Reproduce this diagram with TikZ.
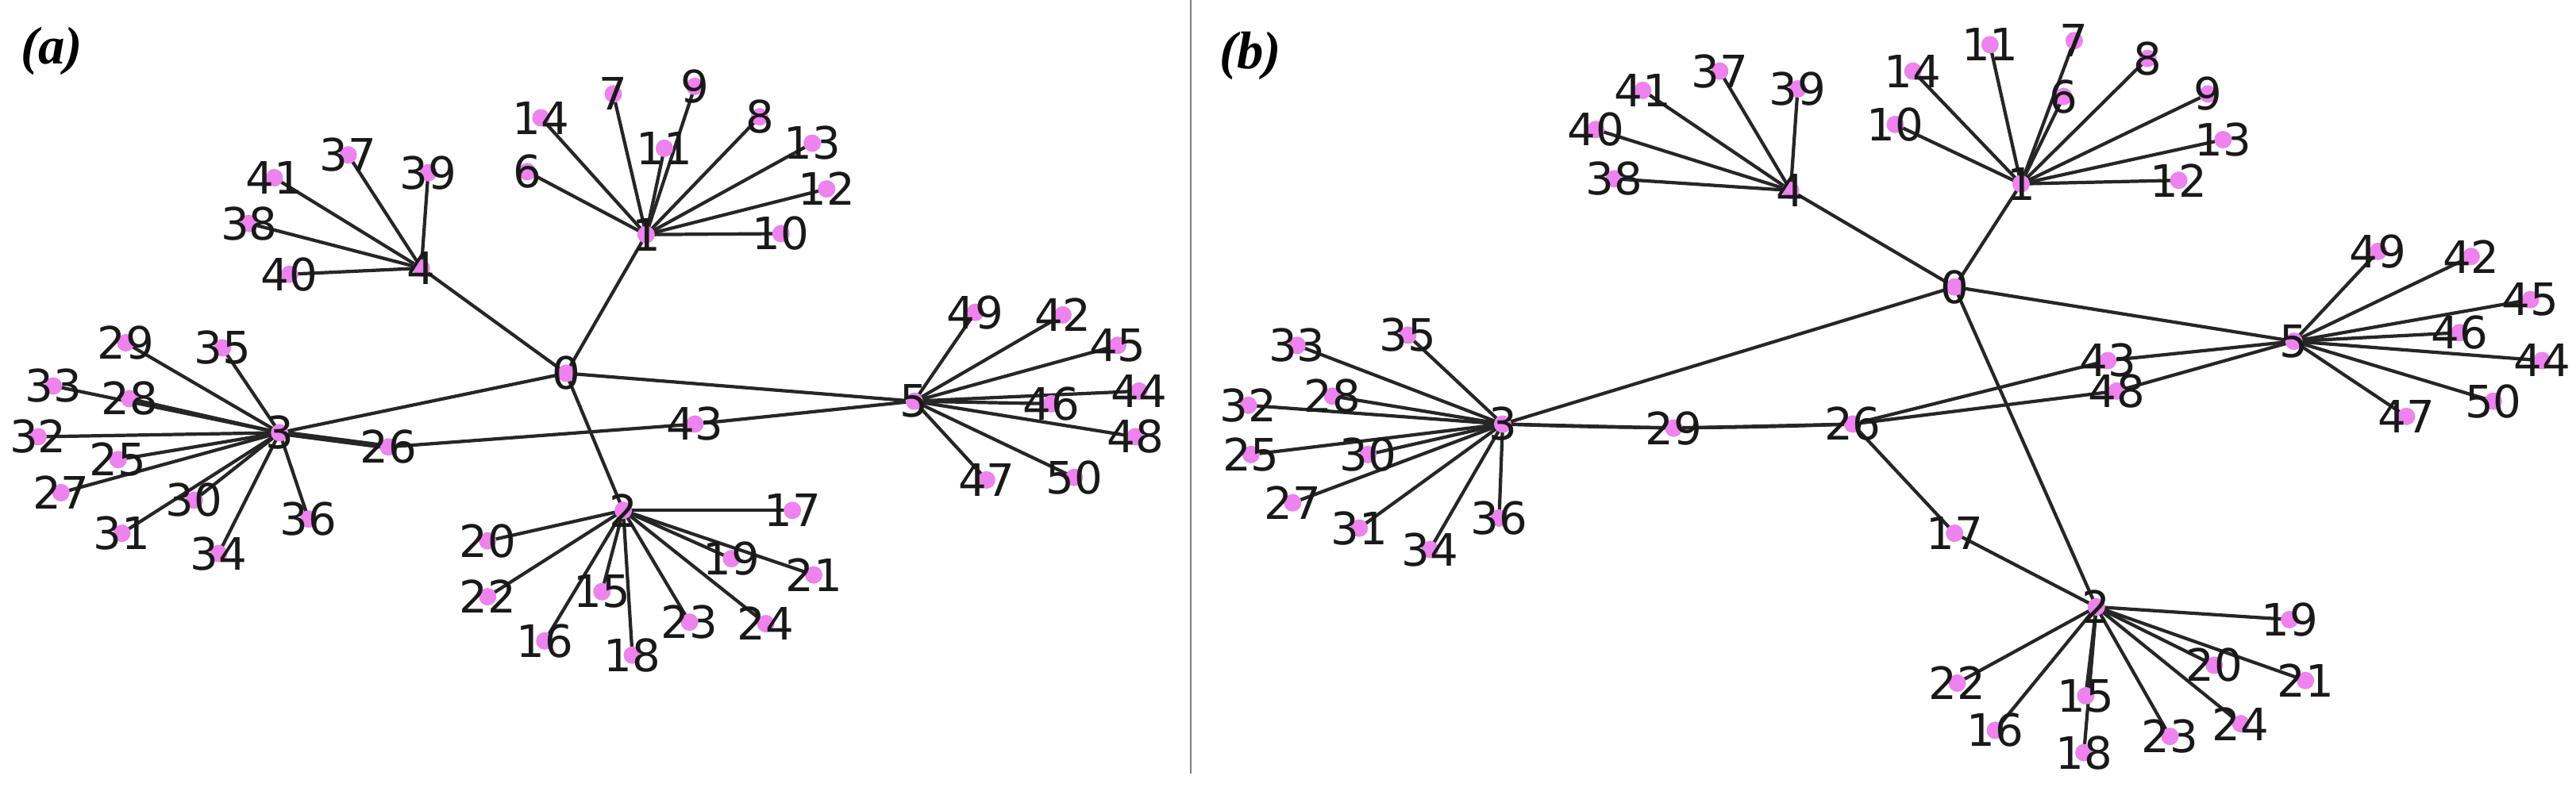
\documentclass[tikz,border=0pt]{standalone}
\usepackage{fontspec}
\setmainfont{DejaVu Sans}
\newfontfamily\serifit{Liberation Serif}
\definecolor{dotc}{HTML}{EE82EE}
\begin{document}
\begin{tikzpicture}[
  edge/.style={line width=2.4pt,black!85},
  lbl/.style={font=\fontsize{32}{36}\selectfont,inner sep=0pt,text=black!90},
  panel/.style={font=\serifit\bfseries\itshape\fontsize{38}{42}\selectfont,inner sep=0pt}]
\useasboundingbox (0,0) rectangle (64.9,-20.02);
\draw[gray,line width=1pt] (30,0) -- (30,-19.5);
\node[panel] (pa) at (1.3,-1.28) {(\textit{a})};
\node[panel] (pb) at (31.5,-1.41) {(\textit{b})};
% ---------- panel a
\begin{scope}[x=0.0192cm,y=-0.0128cm]
\foreach \n/\x/\y in {0/743/735,1/848/462,2/818/1005,3/367/852,4/553/528,5/1200/790,6/692/338,7/805/185,8/997/230,9/912/170,10/1025/460,11/872/292,12/1085/372,13/1066/282,14/710/232,15/790/1165,16/715/1262,17/1040/1005,18/830/1290,19/960/1100,20/640/1065,21/1068/1132,22/640/1175,23/905/1225,24/1005/1228,25/155/905,26/510/880,27/80/970,28/170/785,29/165/675,30/255/985,31/160/1050,32/50/860,33/70/760,34/287/1090,35/292/685,36/405/1022,37/457/305,38/327/440,39/562/340,40/380/540,41/360/350,42/1395/620,43/912/835,44/1495/770,45/1467/680,46/1380/795,47/1295/945,48/1490/860,49/1280/615,50/1410/940}
  \coordinate (a\n) at (\x,\y);
\foreach \s/\t in {0/1,0/2,0/3,0/4,0/5,26/43,43/5}
  \draw[edge] (a\s) -- (a\t);
\draw[edge,line width=4pt] (a3) -- (a26);
\foreach \t in {6,...,14} \draw[edge] (a1) -- (a\t);
\foreach \t in {15,...,24} \draw[edge] (a2) -- (a\t);
\foreach \t in {25,27,28,...,36} \draw[edge] (a3) -- (a\t);
\foreach \t in {37,...,41} \draw[edge] (a4) -- (a\t);
\foreach \t in {42,44,45,...,50} \draw[edge] (a5) -- (a\t);
\foreach \n in {0,...,50} {
  \fill[dotc] (a\n) circle (0.22cm);
  \node[lbl] (la\n) at (a\n) {\n};
}
\end{scope}
% ---------- panel b
\begin{scope}[shift={(30cm,0)},x=0.02233cm,y=-0.0128cm]
\foreach \n/\x/\y in {0/862/565,1/937/362,2/1022/1195,3/352/835,4/677/375,5/1245/672,6/985/190,7/997/80,8/1080/115,9/1148/185,10/795/245,11/902/88,12/1115/355,13/1165/275,14/815/140,15/1010/1370,16/908/1438,17/862/1050,18/1008/1482,19/1240/1220,20/1155/1310,21/1258/1340,22/865/1345,23/1105/1450,24/1185/1425,25/68/895,26/747/835,27/115/990,28/160/780,29/545/843,30/200/895,31/190/1040,32/65/798,33/120/680,34/270/1082,35/245/660,36/348/1020,37/597/140,38/478/352,39/685/175,40/457/255,41/510/178,42/1445/505,43/1035/710,44/1525/710,45/1512/590,46/1432/655,47/1372/820,48/1045/770,49/1340/495,50/1470/790}
  \coordinate (b\n) at (\x,\y);
\foreach \s/\t in {0/1,0/2,0/3,0/4,0/5,3/29,29/26,26/43,43/5,26/48,48/5,26/17,17/2}
  \draw[edge] (b\s) -- (b\t);
\draw[edge] (b3) to[bend right=2] (b26);
\foreach \t in {6,...,14} \draw[edge] (b1) -- (b\t);
\foreach \t in {15,16,18,19,...,24} \draw[edge] (b2) -- (b\t);
\foreach \t in {25,27,28,30,31,...,36} \draw[edge] (b3) -- (b\t);
\foreach \t in {37,...,41} \draw[edge] (b4) -- (b\t);
\foreach \t in {42,44,45,46,47,49,50} \draw[edge] (b5) -- (b\t);
\foreach \n in {0,...,50} {
  \fill[dotc] (b\n) circle (0.22cm);
  \node[lbl] (lb\n) at (b\n) {\n};
}
\end{scope}
\end{tikzpicture}
\end{document}
